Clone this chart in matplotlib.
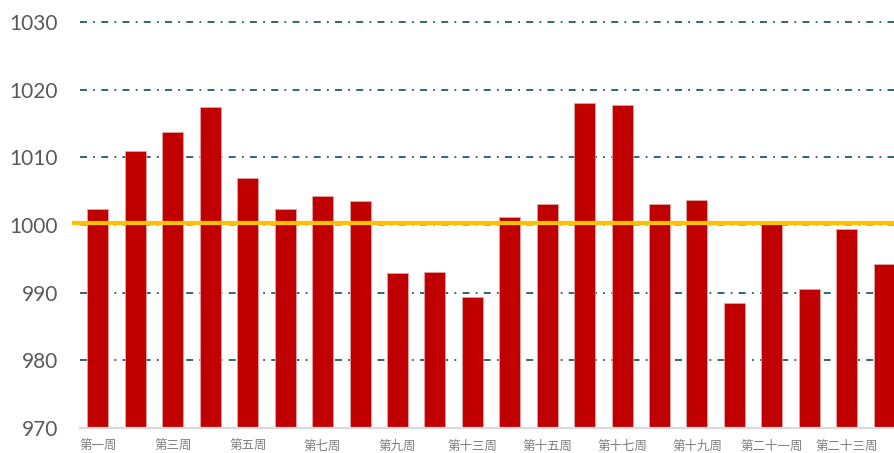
import matplotlib
matplotlib.use('Agg')
import matplotlib.pyplot as plt
import numpy as np

# weekly index values (weeks 11 and 12 are absent from the source series)
weeks = ['第一周', '第二周', '第三周', '第四周', '第五周', '第六周', '第七周', '第八周',
         '第九周', '第十周', '第十三周', '第十四周', '第十五周', '第十六周', '第十七周',
         '第十八周', '第十九周', '第二十周', '第二十一周', '第二十二周', '第二十三周',
         '第二十四周']
values = [1002.4, 1010.9, 1013.8, 1017.5, 1006.9, 1002.4, 1004.3, 1003.6,
          992.9, 993.1, 989.4, 1001.2, 1003.1, 1018.0, 1017.7, 1003.1,
          1003.7, 988.4, 1000.6, 990.5, 999.4, 994.2]
baseline = 1000
y_ticks = [970, 980, 990, 1000, 1010, 1020, 1030]

plt.rcParams['lines.scale_dashes'] = False

fig = plt.figure(figsize=(8.95, 4.53), dpi=100)
ax = fig.add_axes([80 / 895, 1 - 428 / 453, 815 / 895, 406 / 453])

x = np.arange(len(values))
bottom = y_ticks[0]

# grid lines, dash-dot
dash = (0, (5, 4.5, 1.3, 4.5))
for t in y_ticks[1:]:
    col = '#a6a6a6' if t == baseline else '#215a6a'
    ax.axhline(t, color=col, linewidth=1.3, linestyle=dash, zorder=1, clip_on=False)

ax.bar(x, np.array(values) - bottom, bottom=bottom, width=0.56,
       color='#c00000', edgecolor='#e6a3a3', linewidth=0.6, zorder=2)

# category axis line
ax.axhline(bottom, color='#d9d9d9', linewidth=1.6, zorder=3, clip_on=False)

# reference line at 1000
ax.plot([-0.7, len(values)], [baseline + 0.35, baseline + 0.35], color='#ffc000',
        linewidth=3.0, zorder=4, clip_on=False, solid_capstyle='butt')

ax.set_xlim(-0.48, 21.29)
ax.set_ylim(970, 1030)
ax.set_yticks(y_ticks)
ax.set_yticklabels([str(t) for t in y_ticks], fontfamily='Lato', fontsize=15, color='#595959')
ax.set_xticks(x[::2])
ax.set_xticklabels(weeks[::2], fontfamily=['Noto Sans CJK SC', 'DejaVu Sans'],
                   fontsize=9, color='#7f7f7f')
ax.tick_params(axis='y', length=0, pad=16)
ax.tick_params(axis='x', length=0, pad=8.5)
for s in ax.spines.values():
    s.set_visible(False)

fig.savefig('out.png', dpi=100)
